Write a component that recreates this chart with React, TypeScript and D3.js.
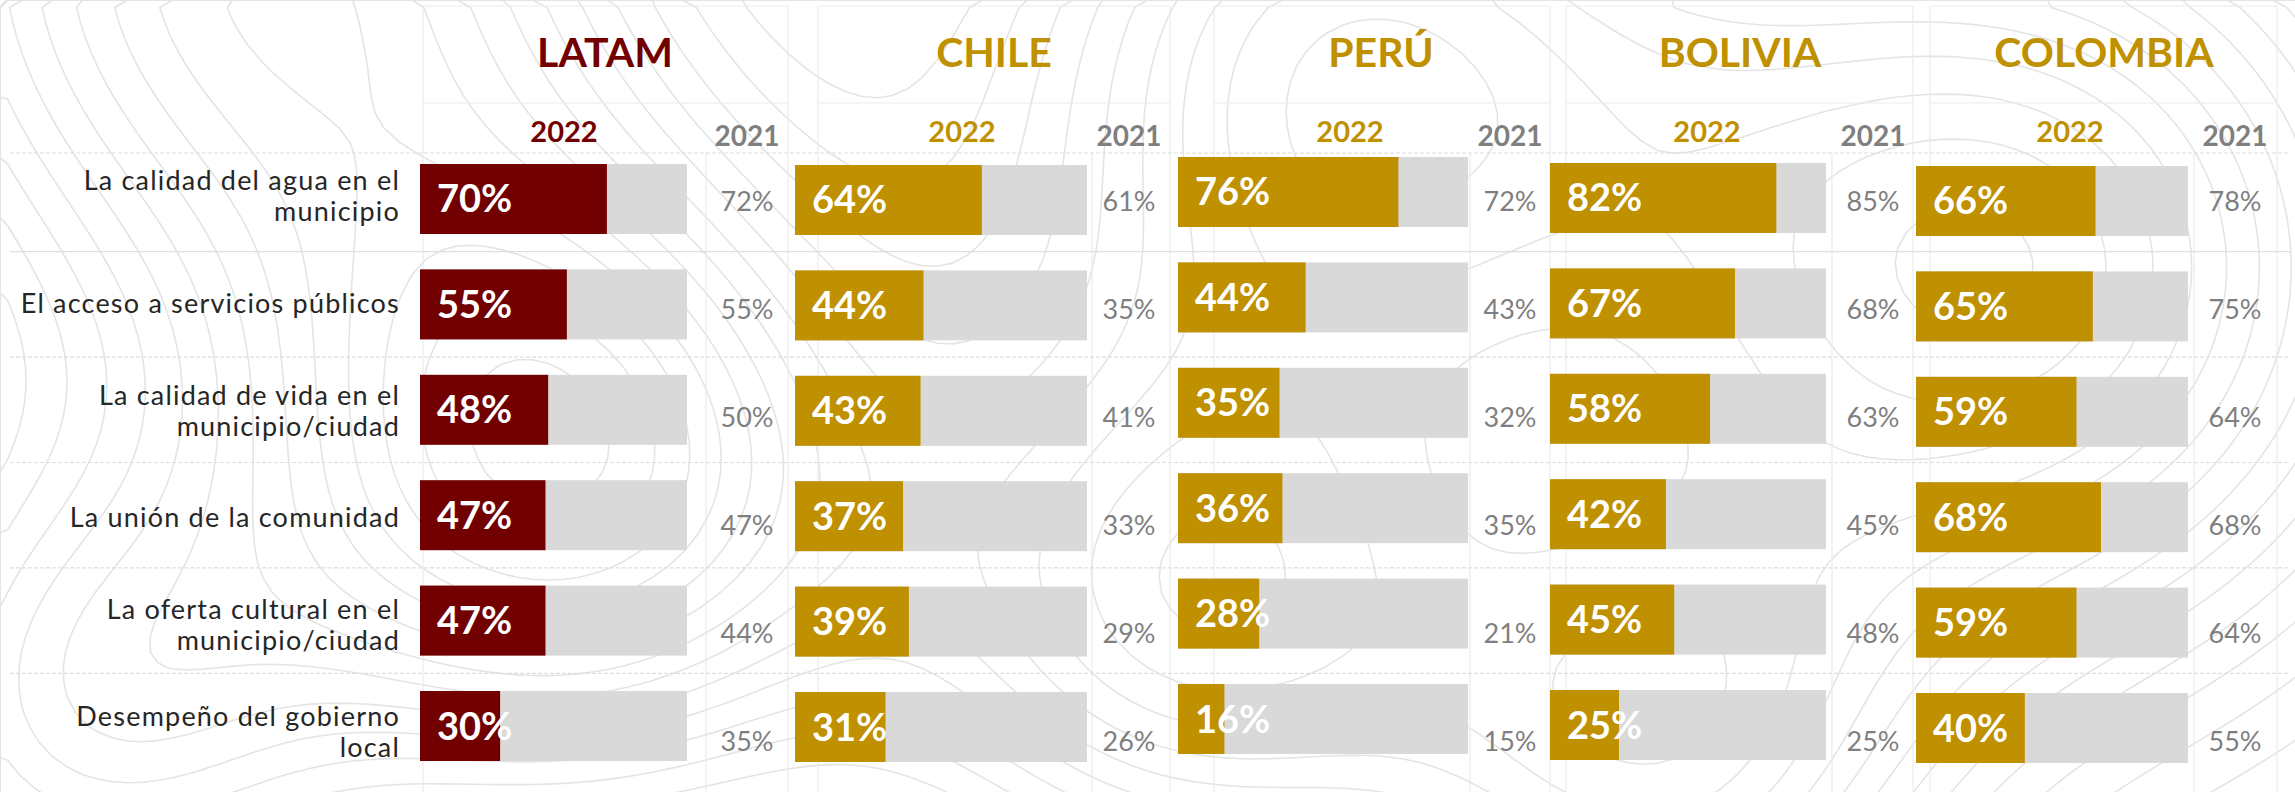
import React from 'react';
import * as d3 from 'd3';

// data
const countries = ['LATAM', 'CHILE', 'PERÚ', 'BOLIVIA', 'COLOMBIA'];
const categories = [
  'La calidad del agua en el\nmunicipio',
  'El acceso a servicios públicos',
  'La calidad de vida en el\nmunicipio/ciudad',
  'La unión de la comunidad',
  'La oferta cultural en el\nmunicipio/ciudad',
  'Desempeño del gobierno\nlocal',
];
const latam2022 = [70, 55, 48, 47, 47, 30];
const chile2022 = [64, 44, 43, 37, 39, 31];
const peru2022 = [76, 44, 35, 36, 28, 16];
const bolivia2022 = [82, 67, 58, 42, 45, 25];
const colombia2022 = [66, 65, 59, 68, 59, 40];
const latam2021 = [72, 55, 50, 47, 44, 35];
const chile2021 = [61, 35, 41, 33, 29, 26];
const peru2021 = [72, 43, 32, 35, 21, 15];
const bolivia2021 = [85, 68, 63, 45, 48, 25];
const colombia2021 = [78, 75, 64, 68, 64, 55];
const yearLabels = ['2022', '2021'];

const values2022 = [latam2022, chile2022, peru2022, bolivia2022, colombia2022];
const values2021 = [latam2021, chile2021, peru2021, bolivia2021, colombia2021];

// layout
const W = 2295;
const H = 792;
const FONT = 'Lato, "Open Sans", sans-serif';
const RED = '#720000';
const GOLD = '#BF9000';
const TRACK = '#D9D9D9';
const GRAY = '#7F7F7F';
const GRID = '#EBEBEB';
const CAT_SIZE = 27;
const CAT_LINE = 31;

const panels = [
  { x0: 420, x1: 687, dy: 0, col21: 747, h22: 564, title: 605, box: [423, 788], inner: 706, color: RED },
  { x0: 795, x1: 1087, dy: 1, col21: 1129, h22: 962, title: 994, box: [818, 1170], inner: 1092, color: GOLD },
  { x0: 1178, x1: 1468, dy: -7, col21: 1510, h22: 1350, title: 1381, box: [1214, 1550], inner: 1470, color: GOLD },
  { x0: 1550, x1: 1826, dy: -1, col21: 1873, h22: 1707, title: 1740, box: [1566, 1913], inner: 1832, color: GOLD },
  { x0: 1916, x1: 2188, dy: 2, col21: 2235, h22: 2070, title: 2104, box: [1930, 2277], inner: 2194, color: GOLD },
];

// decorative topographic background (hills: cx, cy, radius, height)
const hills = [
  [250, -60, 420, 1], [1330, 60, 380, 0.9], [560, 470, 330, 1.1],
  [1180, 620, 300, 0.8], [2000, 260, 420, 1], [1650, 760, 280, 0.7], [80, 700, 260, 0.6],
];
const CELL = 15;

const rowIdx = categories.map((_, i) => i);

const Topo = () => {
  const nx = Math.ceil(W / CELL) + 1;
  const ny = Math.ceil(H / CELL) + 1;
  const field = new Array(nx * ny);
  for (let j = 0; j < ny; j++) {
    for (let i = 0; i < nx; i++) {
      const px = i * CELL, py = j * CELL;
      let v = 0;
      hills.forEach(([cx, cy, r, h]) => {
        const d2 = ((px - cx) ** 2 + (py - cy) ** 2) / (r * r);
        v += h * Math.exp(-d2);
      });
      field[j * nx + i] = v;
    }
  }
  const contours = d3.contours().size([nx, ny]).thresholds(d3.range(0.05, 1.3, 0.065))(field);
  const path = d3.geoPath();
  return (
    <g transform={`scale(${CELL})`} fill="none" stroke="#E4E4E4" strokeWidth={1.6}>
      {contours.map((c, i) => (
        <path key={i} d={path(c) || ''} vectorEffect="non-scaling-stroke" />
      ))}
    </g>
  );
};

const App = () => {
  const yRow = d3.scaleBand<number>().domain(rowIdx).range([164, 761]).paddingInner(0.336);
  const yLabel = d3.scalePoint<number>().domain(rowIdx).range([196, 732]);
  const y21 = d3.scalePoint<number>().domain(rowIdx).range([201, 741]);

  // separators halfway between bar rows
  const seps = rowIdx.slice(1).map(i => (yRow(i - 1)! + yRow.bandwidth() + yRow(i)!) / 2);
  const cap = CAT_SIZE * 0.72;

  return (
    <svg width={W} height={H} viewBox={`0 0 ${W} ${H}`}
      style={{ position: 'absolute', left: 0, top: 0, background: '#fff' }}
      fontFamily={FONT}>
      <Topo />
      {/* panel boxes */}
      {panels.map((p, k) => (
        <g key={'box' + k} stroke={GRID} strokeWidth={1.2} fill="none">
          <line x1={p.box[0]} x2={p.box[0]} y1={6} y2={H} />
          <line x1={p.box[1]} x2={p.box[1]} y1={6} y2={H} />
          <line x1={p.box[0]} x2={p.box[1]} y1={6} y2={6} />
          <line x1={p.box[0]} x2={p.box[1]} y1={103} y2={103} />
          <line x1={p.inner} x2={p.inner} y1={153} y2={H} />
        </g>
      ))}
      <line x1={10} x2={W - 5} y1={153} y2={153} stroke="#DEDEDE" strokeWidth={1.2} strokeDasharray="4,2" />
      {seps.map((s, i) => (
        <line key={'sep' + i} x1={10} x2={W - 5} y1={s} y2={s}
          stroke="#DEDEDE" strokeWidth={1.2} strokeDasharray={i === 0 ? undefined : '4,2'} />
      ))}

      {/* category labels */}
      {categories.map((c, i) => {
        const lines = c.split('\n');
        const cy = yLabel(i)!;
        const b1 = lines.length > 1 ? cy - (CAT_LINE - cap) / 2 : cy + cap / 2;
        return (
          <text key={'cat' + i} x={400} y={b1} textAnchor="end" fontSize={CAT_SIZE}
            letterSpacing={1.2} fill="#262626">
            {lines.map((l, j) => (
              <tspan key={j} x={400} dy={j === 0 ? 0 : CAT_LINE}>{l}</tspan>
            ))}
          </text>
        );
      })}

      {panels.map((p, k) => {
        const x = d3.scaleLinear().domain([0, 100]).range([p.x0, p.x1]);
        const y = (i: number) => yRow(i)! + p.dy;
        const bh = yRow.bandwidth();
        return (
          <g key={'panel' + k}>
            <text x={p.title} y={67} textAnchor="middle" fontSize={41} fontWeight={700} fill={p.color}>
              {countries[k]}
            </text>
            <text x={p.h22} y={142} textAnchor="middle" fontSize={29} fontWeight={700} fill={p.color}>
              {yearLabels[0]}
            </text>
            <text x={p.col21} y={146} textAnchor="middle" fontSize={28} fontWeight={700} fill={GRAY}>
              {yearLabels[1]}
            </text>
            {values2022[k].map((v, i) => (
              <g key={'bar' + i}>
                <rect x={x(0)} y={y(i)} width={x(100) - x(0)} height={bh} fill={TRACK} />
                <rect x={x(0)} y={y(i)} width={x(v) - x(0)} height={bh} fill={p.color} />
                <text x={x(0) + 17} y={y(i) + bh / 2 + 13.5} fontSize={38} fontWeight={700} fill="#fff">
                  {v}%
                </text>
              </g>
            ))}
            {values2021[k].map((v, i) => (
              <text key={'v21' + i} x={p.col21} y={y21(i)! + 9.7} textAnchor="middle" fontSize={27} fill={GRAY}>
                {v}%
              </text>
            ))}
          </g>
        );
      })}
    </svg>
  );
};

export default App;
